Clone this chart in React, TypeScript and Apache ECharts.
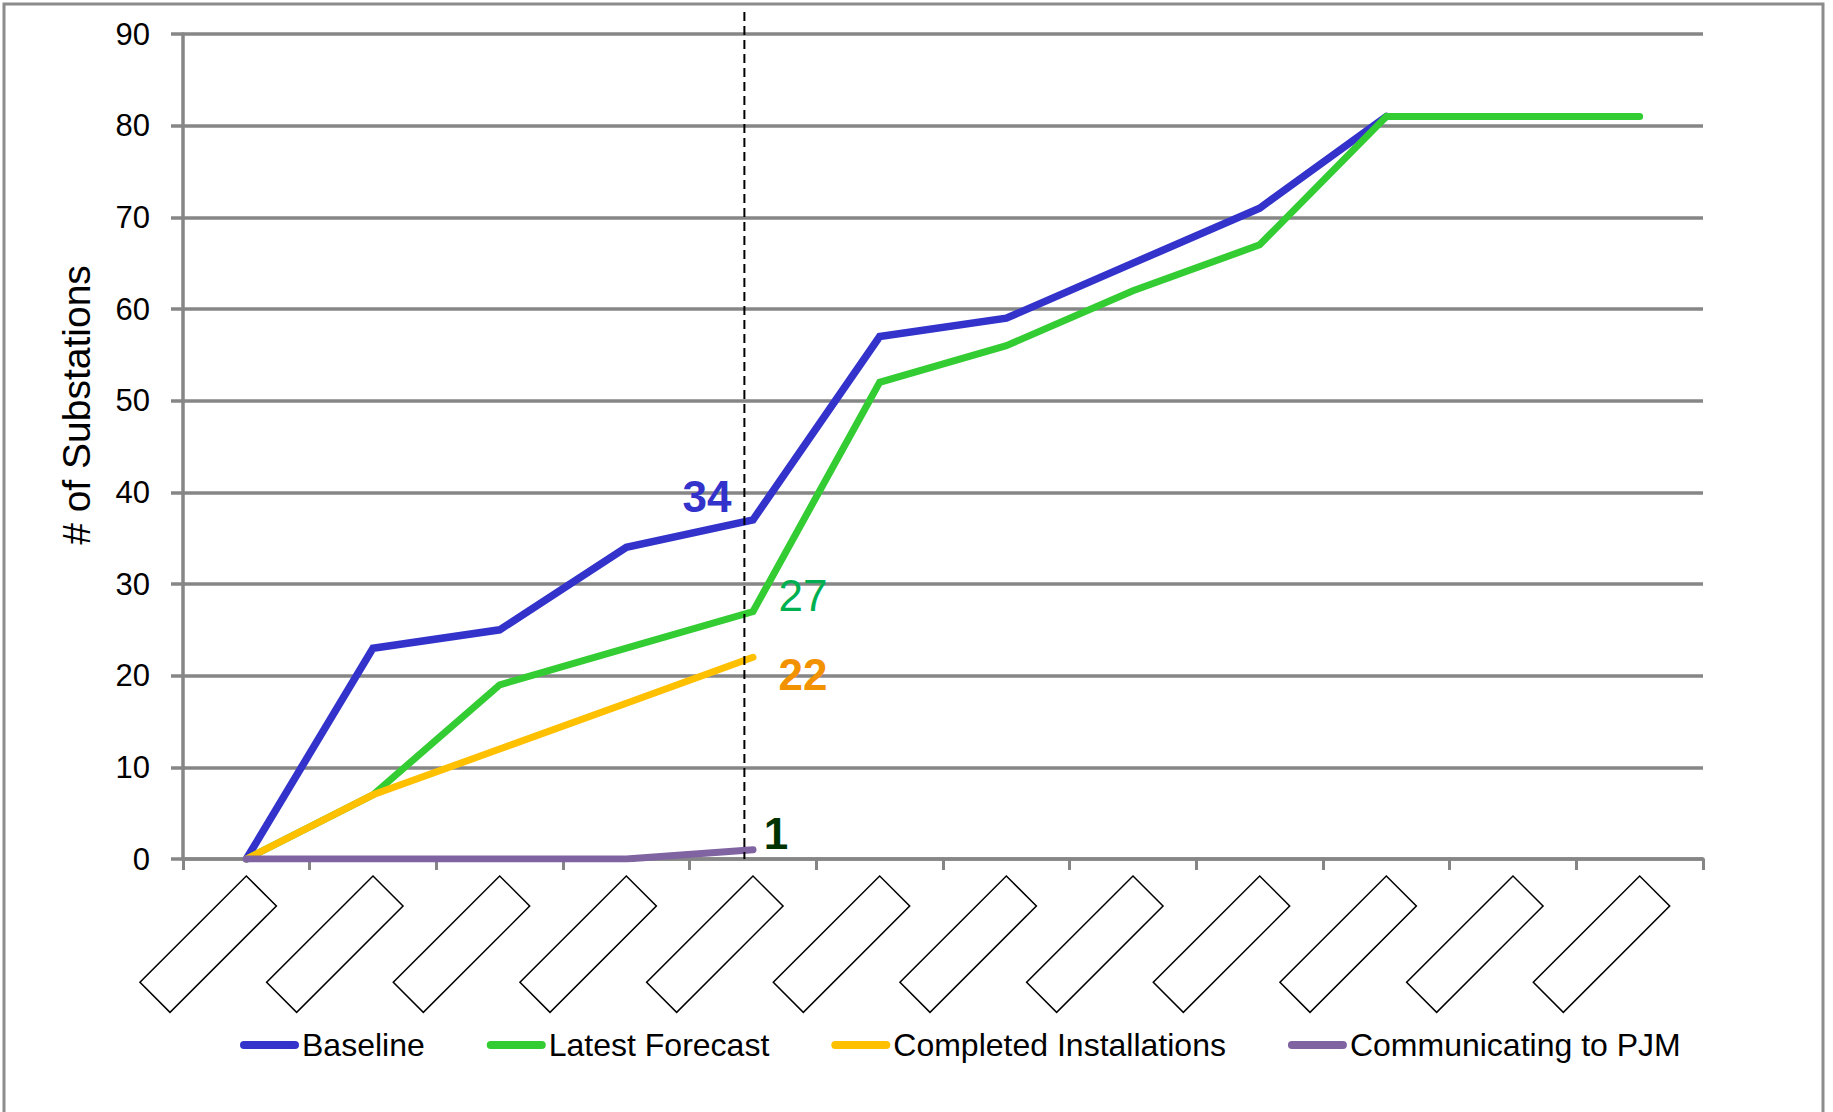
import React, { useEffect, useRef } from 'react';
import * as echarts from 'echarts';

// Category labels in the source are blank boxes (hidden text)
const categories = ['P1', 'P2', 'P3', 'P4', 'P5', 'P6', 'P7', 'P8', 'P9', 'P10', 'P11', 'P12'];
const baseline = [0, 23, 25, 34, 37, 57, 59, 65, 71, 81, null, null];
const latestForecast = [0, 7, 19, 23, 27, 52, 56, 62, 67, 81, 81, 81];
const completedInstallations = [0, 7, 12, 17, 22, null, null, null, null, null, null, null];
const communicatingToPJM = [0, 0, 0, 0, 1, null, null, null, null, null, null, null];

const seriesNames = ['Baseline', 'Latest Forecast', 'Completed Installations', 'Communicating to PJM'];
const seriesColors = ['#3333CC', '#33CC33', '#FFC000', '#8064A2'];
const seriesWidths = [7.5, 7, 7, 7];

const yMin = 0;
const yMax = 90;
const yInterval = 10;
const yTitle = '# of Substations';

// annotation texts shown next to the current-period point (index 4)
const annotationIndex = 4;
const annotationTexts = ['34', '27', '22', '1'];
const annotationColors = ['#3333CC', '#00B050', '#F39200', '#003300'];
const annotationBold = [true, false, true, true];
const annotationOffsets: [number, number][] = [[-46, -23], [50, -16], [50, 17], [23, -16]];

const SANS = "'Liberation Sans', Arial, sans-serif";
const LEGEND_ICON = 'path://M4,0 L55,0 A4,4 0 0 1 55,8 L4,8 A4,4 0 0 1 4,0 Z';

export default function App() {
  const ref = useRef<HTMLDivElement>(null);

  useEffect(() => {
    if (!ref.current) return;
    const chart = echarts.init(ref.current, undefined, { renderer: 'svg' });
    const allData = [baseline, latestForecast, completedInstallations, communicatingToPJM];

    const series = allData.map((d, i) => ({
      name: seriesNames[i],
      type: 'line',
      data: d,
      symbol: 'none',
      connectNulls: false,
      color: seriesColors[i],
      lineStyle: { width: seriesWidths[i], color: seriesColors[i], cap: 'round', join: 'miter' },
      z: 3 + i,
      markPoint: {
        symbol: 'circle',
        symbolSize: 0,
        silent: true,
        data: [
          {
            coord: [categories[annotationIndex], d[annotationIndex]],
            value: annotationTexts[i],
          },
        ],
        label: {
          show: true,
          position: 'inside',
          formatter: annotationTexts[i],
          offset: annotationOffsets[i],
          color: annotationColors[i],
          fontSize: 44,
          fontWeight: annotationBold[i] ? 'bold' : 'normal',
          fontFamily: SANS,
          align: 'center',
          verticalAlign: 'middle',
        },
      },
    }));

    chart.setOption({
      animation: false,
      backgroundColor: '#ffffff',
      grid: { left: 183, right: 130, top: 34, bottom: 253, containLabel: false },
      legend: {
        left: 235,
        top: 1024,
        itemWidth: 59,
        itemHeight: 8,
        itemGap: 62,
        icon: LEGEND_ICON,
        data: seriesNames,
        textStyle: { fontFamily: SANS, fontSize: 32, color: '#000', padding: [0, 0, 0, -2] },
      },
      xAxis: {
        type: 'category',
        data: categories,
        boundaryGap: true,
        axisLine: { show: true, lineStyle: { color: '#868686', width: 3.5 } },
        axisTick: { show: true, length: 11, lineStyle: { color: '#868686', width: 3 } },
        axisLabel: {
          interval: 0,
          rotate: 45,
          margin: 18,
          align: 'right',
          verticalAlign: 'top',
          formatter: () => ' ',
          width: 149,
          height: 41,
          borderColor: '#000',
          borderWidth: 1.5,
          backgroundColor: '#fff',
          fontSize: 12,
        },
        splitLine: { show: false },
      },
      yAxis: {
        type: 'value',
        min: yMin,
        max: yMax,
        interval: yInterval,
        axisLine: { show: true, lineStyle: { color: '#868686', width: 3.5 } },
        axisTick: { show: true, length: 12, lineStyle: { color: '#868686', width: 3.5 } },
        axisLabel: { margin: 33, fontFamily: SANS, fontSize: 31, color: '#000' },
        splitLine: { show: true, lineStyle: { color: '#868686', width: 3.5 } },
      },
      series,
    });

    const x4 = chart.convertToPixel({ xAxisIndex: 0 }, categories[annotationIndex]) as number;
    const x0 = chart.convertToPixel({ xAxisIndex: 0 }, categories[0]) as number;
    const x1 = chart.convertToPixel({ xAxisIndex: 0 }, categories[1]) as number;
    const band = x1 - x0;
    const xd = x4 - band * 0.068;
    const yBottom = chart.convertToPixel({ yAxisIndex: 0 }, yMin) as number;
    const yTop = chart.convertToPixel({ yAxisIndex: 0 }, yMax) as number;

    chart.setOption({
      graphic: [
        {
          type: 'rect',
          shape: { x: 4, y: 4, width: 1819, height: 1130 },
          style: { fill: 'none', stroke: '#8c8c8c', lineWidth: 3 },
          silent: true,
          z: 0,
        },
        {
          type: 'line',
          shape: { x1: xd, y1: yTop - 22, x2: xd, y2: yBottom },
          style: { stroke: '#000', lineWidth: 2, lineDash: [9, 5] },
          silent: true,
          z: 100,
        },
        {
          type: 'text',
          x: 76,
          y: 405,
          rotation: Math.PI / 2,
          style: {
            text: yTitle,
            fontFamily: SANS,
            fontSize: 39,
            fill: '#000',
            align: 'center',
            verticalAlign: 'middle',
          },
          silent: true,
        },
      ],
    });

    return () => chart.dispose();
  }, []);

  return (
    <div
      ref={ref}
      style={{ position: 'fixed', left: 0, top: 0, width: 1833, height: 1112, background: '#fff' }}
    />
  );
}
